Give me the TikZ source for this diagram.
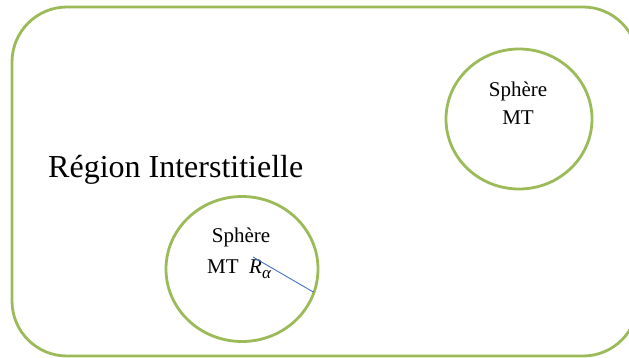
\documentclass[tikz,border=0pt]{standalone}
\usepackage{fontspec}
\setmainfont{Liberation Serif}
\usetikzlibrary{shapes.geometric}
\definecolor{ogreen}{HTML}{9BBB59}
\definecolor{oblue}{HTML}{4472C4}
\tikzset{
  region/.style={draw=ogreen, line width=2.8pt, rounded corners=55pt},
  sphere/.style={draw=ogreen, line width=2.8pt, ellipse, inner sep=0pt, outer sep=0pt},
  lbl/.style={font=\fontsize{21}{26}\selectfont, inner sep=0pt, anchor=base},
  radius/.style={draw=oblue, line width=0.9pt}
}
\begin{document}
\begin{tikzpicture}[x=1pt,y=-1pt]
\useasboundingbox (0,0) rectangle (629,358);
\draw[region] (12,7) rectangle (638,356);
\node[sphere, minimum width=146pt, minimum height=140pt] (s2) at (519,119) {};
\node[sphere, minimum width=152pt, minimum height=145pt] (s1) at (242,269) {};
\node[font=\fontsize{32}{36}\selectfont, inner sep=0pt, anchor=base west] (reg) at (48,178) {Région Interstitielle};
\node[lbl] (s2a) at (518,97) {Sphère};
\node[lbl] (s2b) at (518,125) {MT};
\node[lbl] (s1a) at (241,243) {Sphère};
\node[lbl, anchor=base west] (s1b) at (207,273) {MT};
\node[lbl, anchor=base west] (s1r) at (249,273) {\textit{R}\raisebox{-0.28em}{\fontsize{17}{17}\selectfont\textit{α}}};
\coordinate (r0) at (253,257);
\draw[radius] (r0) -- (s1.-18);
\end{tikzpicture}
\end{document}
